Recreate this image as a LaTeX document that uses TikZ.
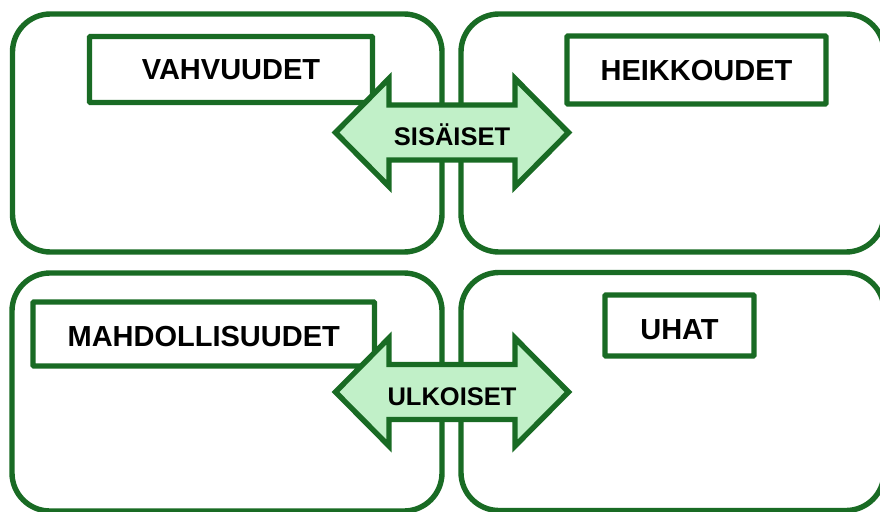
\documentclass[tikz,border=0pt]{standalone}
\usepackage{fontspec}
\setmainfont{Liberation Sans}
\definecolor{swotgreen}{HTML}{196B24}
\definecolor{swotlight}{HTML}{C1F0C8}
\begin{document}
\begin{tikzpicture}[x=1pt,y=-1pt,
  panel/.style={draw=swotgreen, line width=5.4pt, rounded corners=38pt, inner sep=0pt},
  labelbox/.style={draw=swotgreen, line width=5.4pt, fill=white, rounded corners=1pt, inner sep=0pt,
    font=\fontsize{29}{29}\selectfont\bfseries, text height=20.8pt, text depth=0pt},
  arrowshape/.style={draw=swotgreen, fill=swotlight, line width=5.4pt, line join=miter},
  arrowtext/.style={font=\fontsize{25.5}{25.5}\selectfont\bfseries, anchor=base, inner sep=0pt}]
\useasboundingbox (0,0) rectangle (880,511);
% panels
\node[panel, minimum width=429.5pt, minimum height=238pt] (tl) at (227.25,133) {};
\node[panel, minimum width=423pt, minimum height=238pt] (tr) at (672.5,133) {};
\node[panel, minimum width=430pt, minimum height=238pt] (bl) at (227,392) {};
\node[panel, minimum width=423pt, minimum height=238pt] (br) at (672.5,391.5) {};
% label boxes
\node[labelbox, minimum width=283pt, minimum height=66pt] (vahv) at (231,69.5) {VAHVUUDET};
\node[labelbox, minimum width=259pt, minimum height=68pt] (heik) at (696.5,70) {HEIKKOUDET};
\node[labelbox, minimum width=341.5pt, minimum height=64pt] (mahd) at (203.75,334) {\raisebox{-2pt}{MAHDOLLISUUDET}};
\node[labelbox, minimum width=149pt, minimum height=61pt] (uhat) at (679.5,325.5) {\raisebox{-3.5pt}{UHAT}};
% double arrows
\coordinate (sa) at (452,132.5);
\coordinate (ua) at (452,392);
\foreach \c in {sa,ua}{
  \draw[arrowshape, shift={(\c)}] (-116.5,0) -- (-63,-54) -- (-63,-27.5) -- (63,-27.5) -- (63,-54)
    -- (116.5,0) -- (63,54) -- (63,27.5) -- (-63,27.5) -- (-63,54) -- cycle;
}
\node[arrowtext] (sis) at (452,145) {SISÄISET};
\node[arrowtext] (ulk) at (452,405.5) {ULKOISET};
\end{tikzpicture}
\end{document}
